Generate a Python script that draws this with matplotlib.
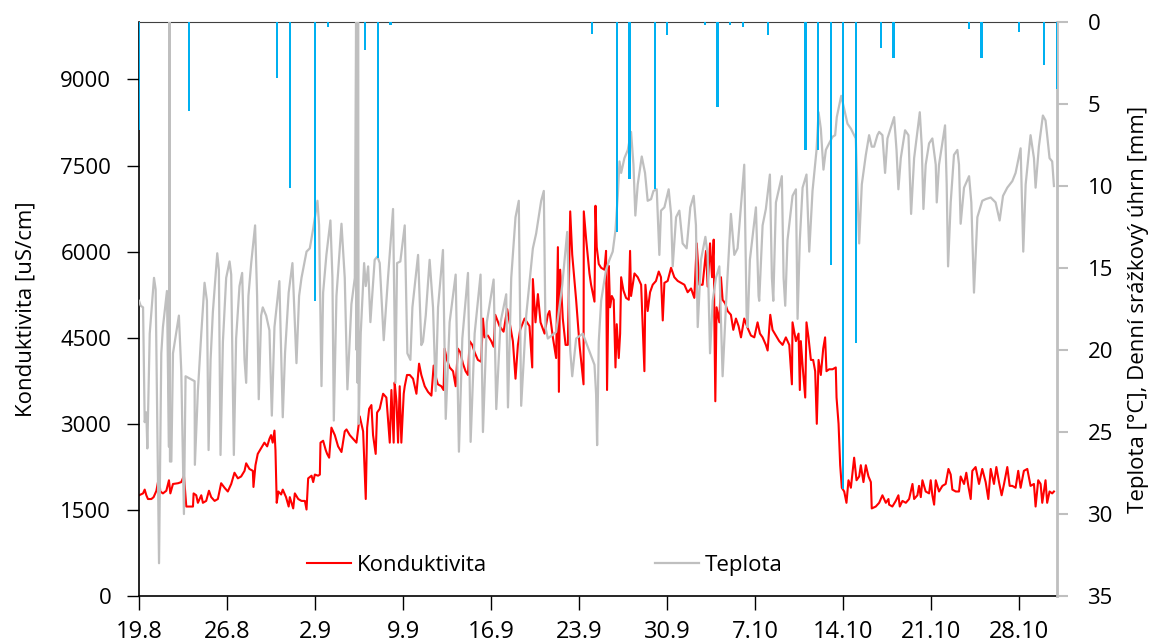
import matplotlib.pyplot as plt

plt.rcParams['font.family'] = ['Open Sans', 'DejaVu Sans']

# x axis: days since 19.8, ticks weekly
tick_days = [0, 7, 14, 21, 28, 35, 42, 49, 56, 63, 70]
tick_labels = ['19.8', '26.8', '2.9', '9.9', '16.9', '23.9', '30.9',
               '7.10', '14.10', '21.10', '28.10']

# water temperature [°C]
temp_day = [0.0, 0.13, 0.32, 0.45, 0.58, 0.66, 0.85, 1.19, 1.32, 1.59, 1.77, 1.90, 2.22, 2.38, 2.42, 2.46,
            2.57, 2.70, 3.17, 3.36, 3.57, 3.70, 4.42, 4.44, 4.68, 4.95, 5.21, 5.40, 5.53, 5.69, 5.87,
            6.22, 6.35, 6.48, 6.67, 6.93, 7.20, 7.33, 7.54, 7.72, 7.99, 8.20, 8.39, 8.52, 8.70, 8.92,
            9.23, 9.39, 9.52, 9.71, 9.84, 10.11, 10.37, 10.56, 10.77, 11.16, 11.43, 11.61, 11.90,
            12.20, 12.39, 12.52, 12.73, 12.92, 13.32, 13.58, 13.85, 14.19, 14.32, 14.51, 14.64, 14.90,
            15.22, 15.38, 15.49, 15.70, 16.10, 16.36, 16.57, 16.89, 17.16, 17.26, 17.30, 17.34, 17.38,
            17.42, 17.47, 17.63, 17.90, 18.03, 18.22, 18.40, 18.74, 18.96, 19.14, 19.46, 19.80, 20.20,
            20.39, 20.52, 20.78, 21.13, 21.34, 21.58, 21.74, 22.19, 22.45, 22.58, 22.80, 23.11,
            23.38, 23.59, 23.78, 24.17, 24.39, 24.70, 25.18, 25.44, 25.71, 26.16, 26.37, 26.69, 27.16,
            27.35, 27.66, 28.20, 28.41, 28.75, 29.20, 29.34, 29.60, 29.94, 30.20, 30.39, 30.79, 31.32,
            31.58, 31.98, 32.19, 32.32, 32.51, 33.17, 33.65, 34.05, 34.29, 34.45, 34.76, 35.29,
            36.22, 36.35, 36.43, 36.56, 36.75, 37.14, 37.41, 37.67, 37.89, 38.07, 38.21, 38.34, 38.60,
            38.87, 39.13, 39.32, 39.47, 39.66, 39.98, 40.24, 40.45, 40.72, 40.91, 41.17, 41.38, 41.51,
            41.78, 42.12, 42.31, 42.44, 42.71, 42.97, 43.23, 43.55, 43.84, 44.11, 44.29, 44.43, 44.69,
            45.04, 45.22, 45.41, 45.62, 45.88, 46.15, 46.41, 46.68,
            47.07, 47.34, 47.60, 48.13, 48.32, 48.40, 48.58, 49.06, 49.27, 49.32, 49.59, 49.85, 50.17,
            50.33, 50.44, 50.65, 51.12, 51.26, 51.39, 51.57, 51.97, 52.24, 52.37, 52.55, 52.77, 53.08,
            53.30, 53.56, 53.88, 54.04, 54.22, 54.43, 54.62, 54.88, 55.15, 55.36, 55.49, 55.84, 56.02,
            56.34, 56.61, 57.00, 57.27, 57.48, 57.80, 58.06, 58.27, 58.46, 58.72,
            58.86, 59.12, 59.33, 59.52, 60.05, 60.24, 60.39, 60.58, 60.92, 61.19, 61.40, 61.64, 62.09,
            62.25, 62.38, 62.56, 62.83, 63.09, 63.36, 63.44, 63.62, 64.10, 64.23, 64.34, 64.55, 64.81,
            65.08, 65.21, 65.34, 65.61, 66.01, 66.19, 66.40, 66.67, 67.06, 67.33, 67.73, 68.12, 68.44,
            68.71, 69.05, 69.45, 69.71, 70.11, 70.32, 70.51, 70.90, 71.17, 71.30, 71.56, 71.88, 72.09,
            72.22, 72.41, 72.62, 72.76]
temp_val = [17.0, 17.3, 17.4, 24.4, 23.8, 26.0, 19.0, 15.6, 16.3, 33.0, 20.2, 18.6, 16.4, 25.9, 0.0, 26.8,
            26.8, 20.2, 17.9, 21.3, 30.0, 21.6, 21.9, 27.0, 22.5, 19.0, 15.9, 17.0, 26.1, 20.6, 17.7,
            14.1, 15.1, 26.4, 19.5, 15.6, 14.6, 15.4, 26.4, 19.3, 16.1, 15.3, 20.6, 22.0, 16.7, 14.7,
            12.4, 16.7, 23.0, 17.9, 17.4, 17.9, 18.8, 24.0, 18.6, 15.8, 24.1, 20.2, 16.5,
            14.7, 18.3, 20.8, 16.7, 15.6, 14.0, 13.8, 12.6, 10.9, 12.4, 22.2, 16.5, 14.2,
            12.1, 15.6, 24.3, 16.7, 12.3, 15.6, 22.4, 17.2, 15.6, 0.0, 20.0, 0.0, 22.0,
            0.0, 24.5, 19.0, 14.7, 16.1, 14.9, 18.3, 14.5, 14.3, 14.7, 19.4, 15.6, 11.4,
            22.0, 14.7, 14.6, 12.4, 20.2, 20.6, 17.4, 14.2, 19.7, 19.5, 17.9, 14.5,
            17.4, 22.5, 17.4, 13.9, 24.2, 18.3, 15.4, 26.2, 19.3, 15.3, 25.6, 19.0, 15.4,
            25.0, 18.3, 15.7, 23.6, 18.3, 16.6, 23.5, 15.6, 11.9, 10.9, 23.4, 17.9, 13.8,
            12.9, 10.9, 10.3, 18.6, 19.3, 18.9, 16.1, 12.8, 20.0, 21.6, 19.3, 19.0,
            20.9, 22.7, 25.8, 19.5, 17.0, 15.1, 14.5, 14.0, 12.7, 10.6, 8.5, 9.2, 8.3,
            7.8, 6.7, 8.7, 11.8, 9.9, 8.2, 9.2, 10.9, 10.8, 10.3, 10.2, 14.2, 11.5,
            11.3, 10.2, 11.7, 14.9, 11.9, 11.5, 13.5, 13.8, 11.3, 10.6, 12.4, 18.6, 14.5,
            13.1, 14.2, 20.2, 17.0, 15.6, 14.9, 21.6, 17.2,
            11.7, 14.2, 13.8, 8.7, 17.9, 18.6, 14.5, 11.3, 16.7, 17.0, 12.4, 11.4, 9.3,
            15.6, 17.0, 11.0, 9.4, 15.6, 17.3, 13.3, 10.6, 10.2, 18.1, 13.3, 10.1, 9.3,
            14.0, 10.3, 7.8, 5.5, 6.5, 9.0, 7.8, 7.4, 7.0, 6.9, 5.8, 4.5, 5.1,
            6.2, 6.5, 7.1, 13.5, 9.9, 8.1, 6.9, 7.6, 7.6, 6.9,
            6.7, 6.9, 9.2, 7.1, 5.8, 7.8, 10.2, 8.3, 6.6, 6.9, 11.7, 8.3, 5.5,
            7.6, 11.4, 8.7, 7.4, 7.1, 8.7, 11.0, 8.7, 6.3, 9.9, 14.9, 11.0, 8.1,
            7.8, 8.7, 12.3, 10.1, 9.4, 11.0, 16.5, 11.9, 10.9, 10.8, 10.7, 11.0, 12.1,
            10.6, 10.1, 9.7, 9.2, 7.7, 14.0, 9.9, 6.9, 8.3, 10.1, 7.6, 5.7, 6.0,
            6.9, 8.3, 8.5, 10.0]

# conductivity [uS/cm]
cond_day = [0.00, 0.32, 0.45, 0.58, 0.71, 0.98, 1.16, 1.38, 1.59, 1.69, 1.90, 2.17, 2.38, 2.49, 2.70,
            3.10, 3.36, 3.57, 3.76, 4.29, 4.34, 4.55, 4.68, 4.95, 5.08, 5.34, 5.56, 5.74, 6.01, 6.27,
            6.53, 6.80, 7.06, 7.33, 7.59, 7.86, 8.12, 8.39, 8.52, 8.78, 9.05, 9.10, 9.26, 9.44, 9.71,
            9.97, 10.19, 10.37, 10.50, 10.63, 10.77, 10.85, 10.95, 11.08, 11.30, 11.43, 11.69, 11.90,
            11.99, 12.26, 12.39, 12.66, 12.92, 13.19, 13.32, 13.45, 13.72, 13.85, 13.98, 14.24, 14.38,
            14.43, 14.64, 14.85, 14.96, 15.12, 15.30, 15.57, 15.83, 16.10, 16.36, 16.50, 16.76, 17.02,
            17.29, 17.55, 17.82, 18.03, 18.14, 18.30, 18.48, 18.61, 18.82, 18.93, 19.14, 19.41, 19.67,
            19.94, 20.07, 20.25, 20.33, 20.47, 20.60, 20.73, 20.86, 21.05, 21.13, 21.31, 21.53, 21.79,
            22.06, 22.27, 22.45, 22.72, 22.98, 23.25, 23.43, 23.64, 23.77, 24.04, 24.22, 24.30, 24.49,
            24.70, 24.97, 25.18, 25.36, 25.55, 25.76, 25.97, 26.16, 26.29, 26.50, 26.69, 26.95, 27.21,
            27.35, 27.48, 27.74, 28.01, 28.20, 28.33, 28.67, 28.99, 29.28, 29.47, 29.73, 29.94, 30.13,
            30.31, 30.66, 31.05, 31.27, 31.32, 31.53, 31.72, 31.93, 32.25, 32.51, 32.64, 32.91, 33.17,
            33.31, 33.39, 33.49, 33.70, 33.92, 34.10, 34.29, 34.45, 34.76, 35.03, 35.35, 35.37, 35.56,
            35.82, 35.95, 36.22, 36.30, 36.40, 36.56, 36.75, 37.01, 37.14, 37.22, 37.36, 37.46, 37.60,
            37.75, 37.89, 37.99, 38.15, 38.26, 38.34, 38.52, 38.73, 38.95, 39.05, 39.13, 39.40, 39.66,
            39.93, 40.19, 40.27, 40.45, 40.64, 40.85, 41.11, 41.33, 41.51, 41.65, 41.78, 42.04, 42.31,
            42.57, 42.84, 43.10, 43.37, 43.63, 43.90, 44.16, 44.35, 44.56, 44.82, 45.09, 45.22, 45.41,
            45.57, 45.70, 45.75, 45.83, 45.93, 46.15, 46.28, 46.41, 46.62, 46.81, 47.07, 47.26, 47.47,
            47.68, 47.87, 48.13, 48.40, 48.66, 48.93, 49.19, 49.38, 49.59, 49.85, 49.99, 50.20, 50.38,
            50.65, 50.91, 51.18, 51.44, 51.71, 51.92, 51.97, 52.24, 52.45, 52.55, 52.63, 52.77, 52.98,
            53.08, 53.24, 53.43, 53.61, 53.77, 53.90, 54.04, 54.22, 54.41, 54.56, 54.67, 54.88, 55.15,
            55.41, 55.47, 55.63, 55.76, 55.89, 56.08, 56.26, 56.42, 56.61, 56.87, 57.06, 57.27, 57.40,
            57.61, 57.80, 58.01, 58.20, 58.27, 58.59, 58.86, 59.12, 59.39, 59.60, 59.65, 59.91, 60.18,
            60.39, 60.50, 60.71, 60.98, 61.24, 61.51, 61.64, 61.90, 62.03, 62.17, 62.30, 62.56, 62.83,
            62.96, 63.09, 63.23, 63.36, 63.62, 63.89, 64.15, 64.37, 64.55, 64.68, 64.95, 65.21, 65.34,
            65.61, 65.79, 65.95, 66.14, 66.27, 66.53, 66.80, 67.06, 67.33, 67.54, 67.73, 67.99, 68.18,
            68.39, 68.60, 68.79, 69.05, 69.24, 69.45, 69.71, 69.92, 70.11, 70.37, 70.64, 70.90, 71.17,
            71.30, 71.51, 71.70, 71.83, 72.09, 72.22, 72.41, 72.62, 72.76]
cond_val = [1755, 1788, 1854, 1755, 1690, 1690, 1723, 1834, 2083, 1821, 1788, 1834, 2017, 1788, 1952,
            1965, 1985, 2096, 1559, 1559, 1788, 1755, 1624, 1755, 1624, 1657, 1834, 1723, 1657, 1690,
            1965, 1886, 1821, 1952, 2148, 2050, 2083, 2181, 2312, 2214, 2181, 1900, 2279, 2476, 2574,
            2672, 2607, 2738, 2803, 2672, 2882, 2541, 1624, 1821, 1769, 1854, 1723, 1559,
            1723, 1526, 1788, 1690, 1657, 1657, 1507, 2050, 2096, 1985, 2116, 2096, 2116,
            2672, 2705, 2541, 2476, 2410, 2934, 2803, 2607, 2509, 2869, 2902, 2803, 2738,
            2672, 3131, 2869, 1690, 2934, 3262, 3327, 2803, 2476, 3196, 3262, 3524, 3458,
            2672, 3589, 2672, 3720, 3393, 2672, 3655, 2672, 3524, 3655, 3851, 3851, 3786,
            3524, 4048, 3851, 3655, 3557, 3491, 4015, 3786, 3688, 3655, 3589, 4310, 4113,
            3982, 3917, 3655, 4310, 4244, 4048, 3917, 3851, 4441, 4375, 4244, 4113, 4081,
            4834, 4506, 4539, 4441, 4343, 4899, 4703, 4605, 4998, 4768, 4441, 3786, 4375,
            4637, 4834, 4703, 3982, 5522, 4768, 5260, 4768, 4572, 4899, 4965, 4506, 4146,
            6078, 3557, 5685, 4834, 4375, 4375, 6701, 5947, 5161, 4375, 3688, 6701, 6209,
            5620, 5423, 5129, 6799, 6078, 5784, 5718, 5685, 6013, 3589, 5751, 5030, 5227,
            5161, 3982, 4736, 4146, 4572, 5554, 5325, 5194, 5161, 6013, 5227, 5620, 5554,
            5423, 3917, 5423, 4965, 5292, 5423, 5489, 5653, 5554, 4801, 5456, 5489, 5718,
            5554, 5489, 5456, 5423, 5292, 5358, 5194, 6144, 5423, 5423, 6013, 5391, 6144,
            5554, 6209, 4899, 3393, 5030, 4768, 5554, 5161, 5096, 4965, 4899, 4637, 4834,
            4703, 4506, 4834, 4670, 4539, 4506, 4768, 4572, 4506, 4375, 4277, 4899, 4637,
            4539, 4441, 4375, 4506, 4375, 3688, 4768, 4441, 4572, 3589, 4441, 4015, 3458,
            4768, 4506, 4113, 4113, 3917, 3000, 4113, 3851, 4310, 4506, 3917, 3950, 3950,
            3982, 3458, 3000, 2279, 1886, 1821, 1624, 2017, 1886, 2410, 2017, 2083, 2279,
            1985, 2279, 2083, 1985, 1526, 1559, 1624, 1755, 1624, 1690, 1592, 1559, 1657,
            1755, 1559, 1657, 1624, 1690, 1952, 1690, 1755, 1919, 1723, 2017, 1821, 1788,
            2017, 1755, 1592, 2017, 1821, 1919, 1952, 2214, 2116, 1854, 1821, 1821, 2083,
            1952, 2148, 1919, 1690, 2181, 2247, 1952, 2214, 1985, 1690, 2214, 1952, 2247,
            1985, 1755, 1952, 2247, 1919, 1919, 1886, 2181, 1886, 2181, 2214, 1919, 1952,
            1559, 2017, 1952, 1624, 2017, 1624, 1821, 1788, 1821]

# daily precipitation [mm]
rain_day = [0, 4, 11, 12, 14, 15, 18, 19, 20, 36, 38, 39, 41, 42, 45, 46, 47, 48, 50,
            53, 54, 55, 56, 57, 59, 60, 66, 67, 70, 72, 73]
rain_mm = [6.6, 5.4, 3.4, 10.1, 17.0, 0.3, 1.7, 14.4, 0.2, 0.7, 12.8, 9.6, 10.2, 0.8, 0.2, 5.2,
           0.2, 0.3, 0.8, 7.8, 7.8, 14.8, 28.5, 19.6, 1.6, 2.2, 0.4, 2.2, 0.6, 2.6, 4.1]

fig, ax = plt.subplots(figsize=(11.5, 6.44), dpi=100)
fig.subplots_adjust(left=0.1209, right=0.9191, top=0.9658, bottom=0.0745)
ax2 = ax.twinx()

ax.plot(cond_day, cond_val, color='#FF0000', lw=1.5, label='Konduktivita')
ax2.plot(temp_day, temp_val, color='#BFBFBF', lw=1.6, label='Teplota')
ax2.bar(rain_day, rain_mm, width=0.17, color='#00B0F0', linewidth=0,
        antialiased=False, zorder=3)

ax.set_xlim(0, 73)
ax.set_ylim(0, 10000)
ax.set_yticks(range(0, 9001, 1500))
ax2.set_ylim(35, 0)
ax2.set_yticks(range(0, 36, 5))
ax.set_xticks(tick_days)
ax.set_xticklabels(tick_labels)

ax.tick_params(axis='y', length=9, width=1, pad=11, labelsize=16)
ax.tick_params(axis='x', length=10, width=1, pad=7, labelsize=17)
ax2.tick_params(axis='y', length=8, width=1.5, color='#BFBFBF', labelcolor='black',
                pad=14, labelsize=16)

for s in ['left', 'bottom']:
    ax.spines[s].set_linewidth(1.2)
ax.spines['top'].set_color('#404040')
ax.spines['right'].set_visible(False)
for s in ['left', 'top', 'bottom']:
    ax2.spines[s].set_visible(False)
ax2.spines['right'].set_color('#BFBFBF')
ax2.spines['right'].set_linewidth(2)

ax.set_ylabel('Konduktivita [uS/cm]', fontsize=16, labelpad=17)
ax2.set_ylabel('Teplota [°C], Denní srážkový úhrn [mm]', fontsize=16, labelpad=11)

h1, l1 = ax.get_legend_handles_labels()
h2, l2 = ax2.get_legend_handles_labels()
ax2.legend(h1 + h2, l1 + l2, ncol=2, loc='center', bbox_to_anchor=(0.442, 0.054),
           frameon=False, fontsize=16, handlelength=2.0, handletextpad=0.25,
           columnspacing=7.55)

fig.savefig('out.png', dpi=100)
